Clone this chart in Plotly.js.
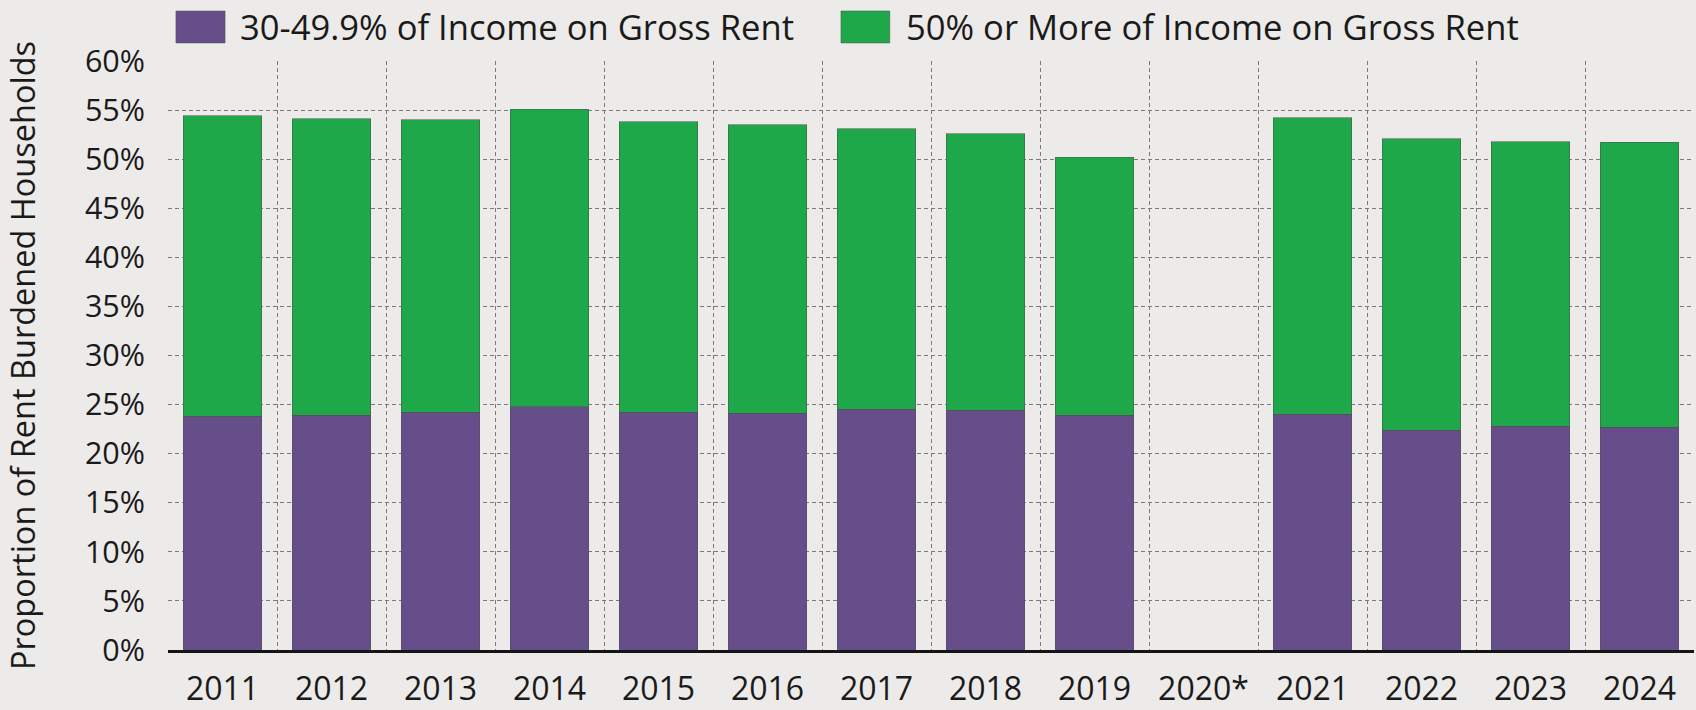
<!DOCTYPE html>
<html>
<head>
<meta charset="utf-8">
<script src="https://cdn.plot.ly/plotly-3.0.1.min.js"></script>
<style>
  html, body { margin: 0; padding: 0; background: #ECEBE9; }
  #chart { width: 1696px; height: 710px; }
</style>
</head>
<body>
<div id="chart"></div>
<script>
// Data (percent of renter households)
const years = ["2011", "2012", "2013", "2014", "2015", "2016", "2017", "2018", "2019", "2020*", "2021", "2022", "2023", "2024"];
const moderateBurden = [23.8, 23.9, 24.2, 24.8, 24.2, 24.1, 24.5, 24.4, 23.9, null, 24.0, 22.4, 22.8, 22.7];
const severeBurden = [30.6, 30.2, 29.8, 30.3, 29.6, 29.4, 28.6, 28.2, 26.3, null, 30.2, 29.7, 29.0, 29.0];
const seriesNames = ["30-49.9% of Income on Gross Rent", "50% or More of Income on Gross Rent"];
const yTickVals = [0, 5, 10, 15, 20, 25, 30, 35, 40, 45, 50, 55, 60];
const yTickText = yTickVals.map(v => v + "%");

const purple = "#654E8A";
const green = "#1FA84A";
const font = "'Open Sans', 'Noto Sans', sans-serif";

const traces = [
  {
    type: "bar", name: seriesNames[0], x: years, y: moderateBurden,
    marker: { color: purple, line: { color: "rgba(80,80,80,0.55)", width: 1 } },
    showlegend: false, hovertemplate: "%{x}: %{y}%<extra></extra>"
  },
  {
    type: "bar", name: seriesNames[1], x: years, y: severeBurden,
    marker: { color: green, line: { color: "rgba(80,80,80,0.55)", width: 1 } },
    showlegend: false, hovertemplate: "%{x}: %{y}%<extra></extra>"
  }
];

const layout = {
  width: 1696, height: 710,
  paper_bgcolor: "#ECEBE9", plot_bgcolor: "rgba(0,0,0,0)",
  margin: { l: 168, r: 2, t: 61, b: 60 },
  barmode: "stack",
  bargap: 0.284,
  font: { family: font, color: "#1a1a1a" },
  xaxis: {
    type: "category",
    tickson: "boundaries",
    showgrid: true, gridcolor: "#7a7a7a", gridwidth: 1.2, griddash: "4px,3px",
    showline: true, linecolor: "#151515", linewidth: 3,
    ticks: "", ticklabelstandoff: 9,
    tickfont: { size: 32, family: font, color: "#1a1a1a" },
    fixedrange: true
  },
  yaxis: {
    range: [0, 60],
    tickvals: yTickVals, ticktext: yTickText,
    showgrid: true, gridcolor: "#7a7a7a", gridwidth: 1.2, griddash: "4px,3px",
    zeroline: false, showline: false,
    ticks: "", ticklabelstandoff: 22,
    tickfont: { size: 30.5, family: font, color: "#1a1a1a" },
    title: { text: "Proportion of Rent Burdened Households", standoff: 40, font: { size: 32.5, family: font, color: "#1a1a1a" } },
    fixedrange: true
  },
  shapes: [
    { type: "rect", xref: "paper", yref: "paper", x0: 0.0052, x1: 0.0374, y0: 1.0306, y1: 1.0849, fillcolor: purple, line: { color: "rgba(80,80,80,0.5)", width: 1 } },
    { type: "rect", xref: "paper", yref: "paper", x0: 0.441, x1: 0.473, y0: 1.0306, y1: 1.0849, fillcolor: green, line: { color: "rgba(80,80,80,0.5)", width: 1 } }
  ],
  annotations: [
    { xref: "paper", yref: "paper", x: 0.046, y: 1.058, xanchor: "left", yanchor: "middle", showarrow: false, text: seriesNames[0], font: { size: 34.6, family: font, color: "#1a1a1a" } },
    { xref: "paper", yref: "paper", x: 0.4826, y: 1.058, xanchor: "left", yanchor: "middle", showarrow: false, text: seriesNames[1], font: { size: 34.6, family: font, color: "#1a1a1a" } }
  ]
};

Plotly.newPlot("chart", traces, layout, { displayModeBar: false });
</script>
</body>
</html>
